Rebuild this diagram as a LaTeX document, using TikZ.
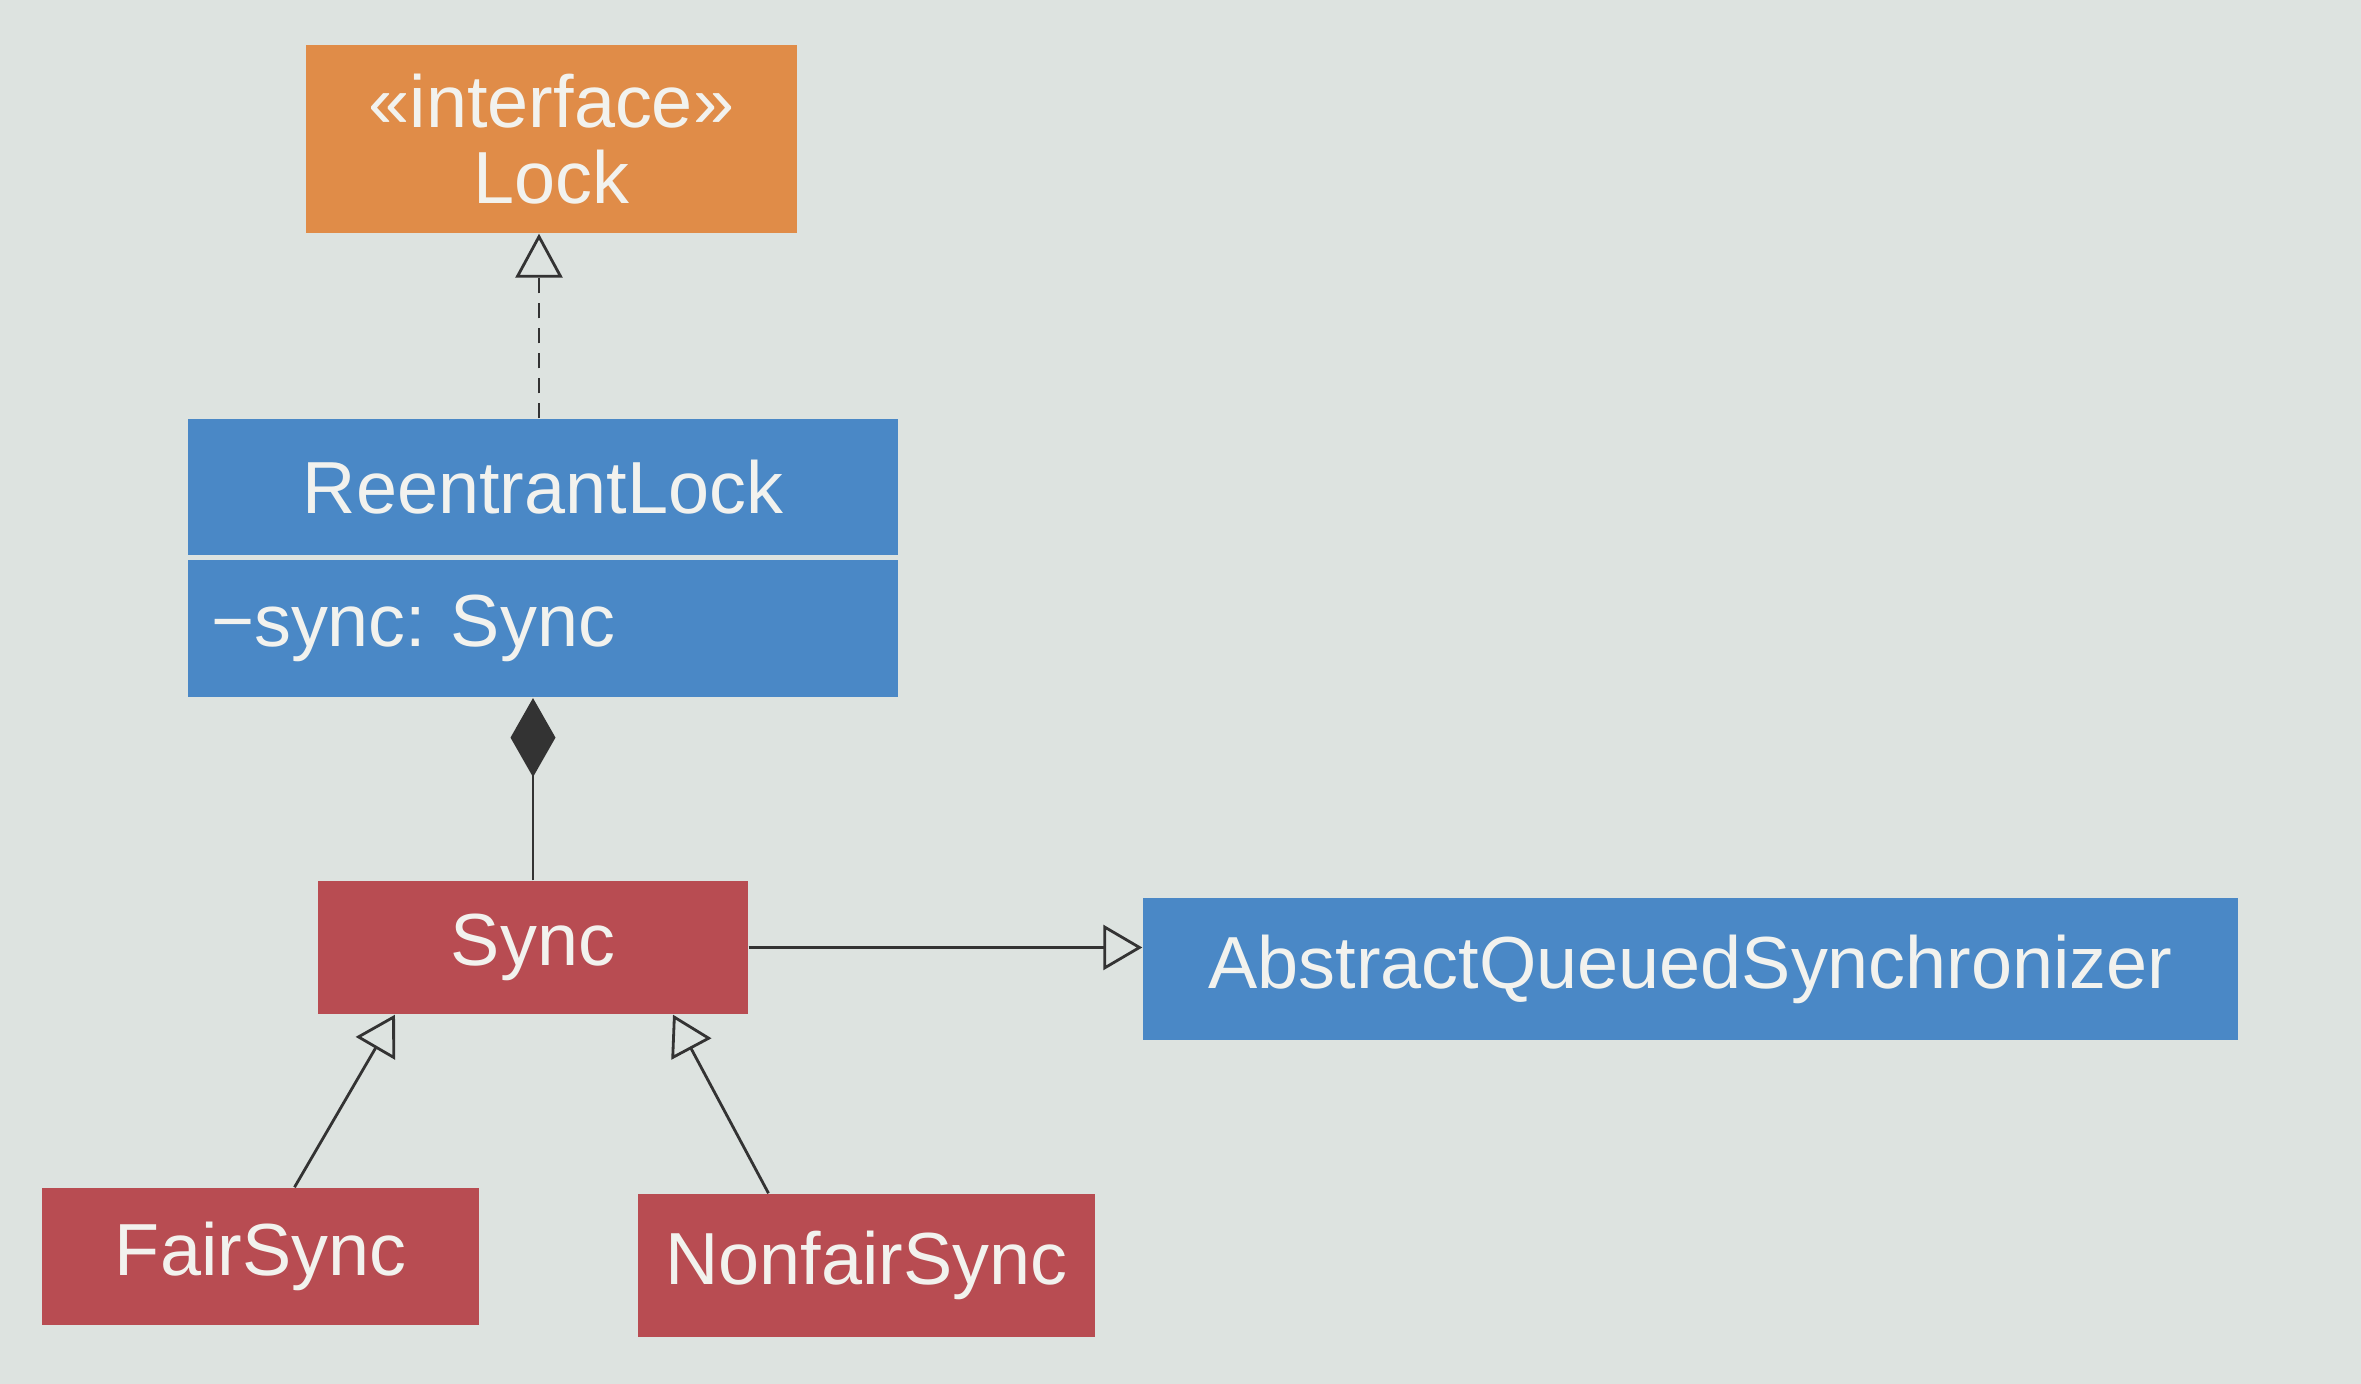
\documentclass[tikz,border=0pt]{standalone}
\usepackage{fontspec}
\setmainfont{Liberation Sans}
\usetikzlibrary{arrows.meta,positioning,calc}
\definecolor{paper}{HTML}{DDE3E0}
\definecolor{lockorange}{HTML}{E08C48}
\definecolor{classblue}{HTML}{4A88C6}
\definecolor{innerred}{HTML}{B84C52}
\definecolor{labelwhite}{HTML}{F2F2EE}
\definecolor{ink}{HTML}{333333}
\tikzset{
  umlbox/.style = {rectangle, inner sep=0pt, text=labelwhite,
    font=\fontsize{21}{21.5}\selectfont\frenchspacing},
  link/.style = {draw=ink, line width=0.8pt}
}
\tikzset{>=latex}

\begin{document}
\begin{tikzpicture}
  % page
  \fill[paper] (0,0) rectangle (23.61,13.84);
  \useasboundingbox (0,0) rectangle (23.61,13.84);
  % interface
  \node[umlbox, fill=lockorange, minimum width=4.91cm, minimum height=1.88cm,
        align=center] (lock) at (5.515,12.45) {«interface»\\Lock};
  % ReentrantLock with its field
  \node[umlbox, fill=classblue, minimum width=7.10cm, minimum height=1.36cm]
        (reentrant) at (5.43,8.97) {ReentrantLock};
  \node[umlbox, fill=classblue, minimum width=7.10cm, minimum height=1.37cm,
        text width=6.64cm, inner xsep=0.23cm, align=left,
        below=0.04cm of reentrant] (field) {−sync: Sync};
  % inner classes
  \node[umlbox, fill=innerred, minimum width=4.30cm, minimum height=1.33cm]
        (sync) at (5.33,4.365) {Sync};
  \node[umlbox, fill=innerred, minimum width=4.37cm, minimum height=1.37cm]
        (fair) at (2.605,1.275) {FairSync};
  \node[umlbox, fill=innerred, minimum width=4.57cm, minimum height=1.43cm]
        (nonfair) at (8.665,1.185) {NonfairSync};
  % base class
  \node[umlbox, fill=classblue, minimum width=10.95cm, minimum height=1.42cm]
        (aqs) at (16.905,4.15) {AbstractQueuedSynchronizer};
  % realization
  \draw[link, dash pattern=on 0.15cm off 0.1cm,
        -{Triangle[open, length=0.44cm, width=0.47cm]}]
        ([xshift=-0.04cm]reentrant.north) -- ([xshift=-0.04cm]reentrant.north |- lock.south);
  % composition
  \draw[link, -{Diamond[length=0.79cm, width=0.45cm, fill=ink]}]
        (sync.north) -- (sync.north |- field.south);
  % generalizations
  \draw[link, -{Triangle[open, length=0.39cm, width=0.45cm]}]
        (sync.east) -- (sync.east -| aqs.west);
  \draw[link, -{Triangle[open, length=0.39cm, width=0.45cm]}]
        ([xshift=0.34cm]fair.north) -- ([xshift=-1.38cm]sync.south);
  \draw[link, -{Triangle[open, length=0.39cm, width=0.45cm]}]
        ([xshift=-0.98cm]nonfair.north) -- ([xshift=1.40cm]sync.south);
\end{tikzpicture}
\end{document}
